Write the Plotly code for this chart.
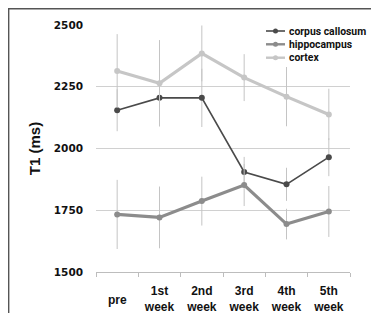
import plotly.graph_objects as go

categories = ["pre", "1st<br>week", "2nd<br>week", "3rd<br>week", "4th<br>week", "5th<br>week"]
corpus_callosum = [2155, 2205, 2205, 1905, 1855, 1965]
corpus_err = [85, 110, 118, 61, 67, 77]
hippocampus = [1733, 1721, 1787, 1852, 1694, 1745]
hippo_err = [140, 125, 99, 85, 62, 103]
cortex = [2314, 2264, 2385, 2287, 2210, 2138]
cortex_err = [149, 175, 113, 95, 120, 104]
y_ticks = [1500, 1750, 2000, 2250, 2500]
series_names = ["corpus callosum", "hippocampus", "cortex"]

# page has an 8px body margin: figure is placed at (8, 8)
OFF = 8
W, H = 379 - 2 * OFF, 321 - 2 * OFF
L, T = 96 - OFF, 25 - OFF
R = W - (350 - OFF)
B = H - (272 - OFF)
pw = W - L - R
ph = H - T - B

def pxx(ax):  # absolute page px -> paper x
    return (ax - OFF - L) / pw

def pxy(ay):  # absolute page px -> paper y
    return (H - B - (ay - OFF)) / ph

colors = ["#4a4a4a", "#8c8c8c", "#c6c6c6"]
widths = [1.6, 3.2, 3.2]
values = [corpus_callosum, hippocampus, cortex]
errors = [corpus_err, hippo_err, cortex_err]

fig = go.Figure()
for name, vals, err, col, lw in zip(series_names, values, errors, colors, widths):
    fig.add_trace(go.Scatter(
        x=categories, y=vals, name=name, mode="lines+markers",
        line=dict(color=col, width=lw),
        marker=dict(color=col, size=6),
        error_y=dict(type="data", array=err, visible=True, color="#c4c4c4",
                     thickness=1, width=0),
        showlegend=False,
    ))

tick_text = ["" if c == "pre" else f"<b>{c}</b>" for c in categories]

fig.update_layout(
    width=W, height=H,
    margin=dict(l=L, r=R, t=T, b=B, autoexpand=False),
    paper_bgcolor="white", plot_bgcolor="white",
    showlegend=False,
    xaxis=dict(
        type="category", range=[-0.5, 5.5], tickangle=0,
        showgrid=False, showline=True, linecolor="#bdbdbd", linewidth=1,
        ticks="outside", tickson="boundaries", ticklen=4, tickcolor="#bdbdbd",
        tickfont=dict(family="Liberation Sans, Arial, sans-serif", size=12, color="#111"),
        tickvals=categories, ticktext=tick_text, ticklabelstandoff=8,
        zeroline=False,
    ),
    yaxis=dict(
        range=[1500, 2500], tickvals=y_ticks, ticktext=[f"<b>{v}</b>" for v in y_ticks],
        showgrid=True, gridcolor="#d0d0d0", gridwidth=1,
        zeroline=False, showline=False, ticks="", ticklabelstandoff=12,
        tickfont=dict(family="DejaVu Sans, sans-serif", size=10.5, color="#111"),
        title=dict(text="<b>T1 (ms)</b>", font=dict(family="Liberation Sans, Arial, sans-serif", size=15, color="#111"), standoff=9),
    ),
)

# "pre" label, vertically centred like the reference
fig.add_annotation(x="pre", xref="x", y=pxy(300), yref="paper", text="<b>pre</b>",
                   showarrow=False, xanchor="center", yanchor="middle",
                   font=dict(family="Liberation Sans, Arial, sans-serif", size=12, color="#111"))

# compact legend
leg_rows = [31, 44.3, 57.7]
for name, col, lw, ry in zip(series_names, colors, widths, leg_rows):
    fig.add_shape(type="line", xref="paper", yref="paper",
                  x0=pxx(266), x1=pxx(285), y0=pxy(ry), y1=pxy(ry),
                  line=dict(color=col, width=min(lw, 2.4)))
    fig.add_shape(type="circle", xref="paper", yref="paper",
                  x0=pxx(273), x1=pxx(278), y0=pxy(ry + 2.5), y1=pxy(ry - 2.5),
                  line=dict(width=0), fillcolor=col)
    fig.add_annotation(x=pxx(287), xref="paper", y=pxy(ry), yref="paper",
                       text=f"<b>{name}</b>", showarrow=False, xanchor="left", yanchor="middle",
                       font=dict(family="Roboto, Liberation Sans, sans-serif", size=10.4, color="#111"))

# frame
fig.add_shape(type="line", xref="paper", yref="paper",
              x0=pxx(8.6), x1=pxx(8.6), y0=pxy(8), y1=pxy(340),
              line=dict(color="#555", width=1.6))
fig.add_shape(type="line", xref="paper", yref="paper",
              x0=pxx(8), x1=pxx(400), y0=pxy(8.6), y1=pxy(8.6),
              line=dict(color="#555", width=1.6))

fig.write_html("out.html")
